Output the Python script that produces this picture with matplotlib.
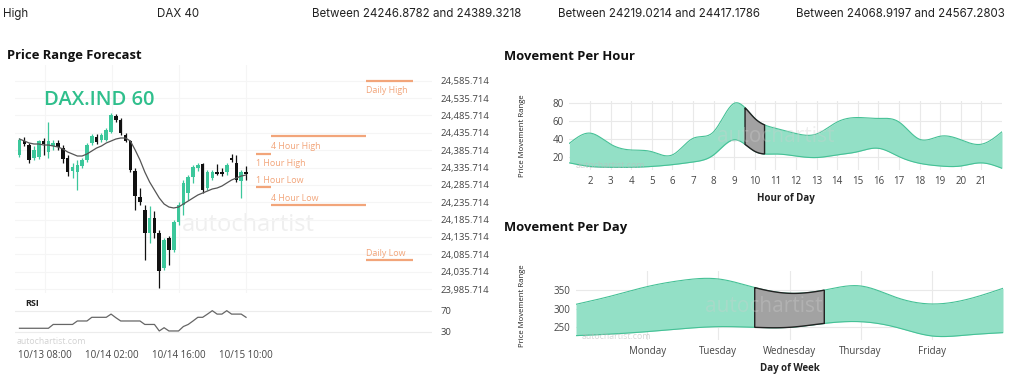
import numpy as np
import matplotlib
matplotlib.use("Agg")
import matplotlib.pyplot as plt

# ---------------- data ----------------
header_texts = ["High", "DAX 40",
                "Between 24246.8782 and 24389.3218",
                "Between 24219.0214 and 24417.1786",
                "Between 24068.9197 and 24567.2803"]

candle_open = [24371.7, 24410.6, 24400.5, 24363.1, 24365.9, 24412.0, 24380.3, 24397.6, 24406.3, 24391.9,
               24363.1, 24325.6, 24322.7, 24340.0, 24357.3, 24406.3, 24423.5, 24414.9, 24414.9, 24437.9,
               24484.0, 24472.5, 24429.3, 24412.0, 24325.6, 24250.8, 24213.3, 24147.1, 24190.5, 24147.1,
               24046.3, 24132.7, 24098.1, 24178.7, 24227.7, 24262.3, 24308.3, 24334.3, 24345.8, 24276.7,
               24305.5, 24322.7, 24322.7, 24322.7, 24363.1, 24348.7, 24296.8, 24322.7]
candle_high = [24420.7, 24423.5, 24406.3, 24397.6, 24414.9, 24420.7, 24466.7, 24414.9, 24414.9, 24400.5,
               24371.7, 24348.7, 24357.3, 24363.1, 24406.3, 24432.2, 24432.2, 24435.1, 24449.5, 24492.7,
               24489.8, 24478.3, 24435.1, 24414.9, 24334.3, 24276.7, 24227.7, 24224.8, 24210.4, 24155.7,
               24132.7, 24138.5, 24184.5, 24236.3, 24299.7, 24314.1, 24342.9, 24348.7, 24348.7, 24328.5,
               24328.5, 24345.8, 24334.3, 24348.7, 24374.6, 24371.7, 24328.5, 24340.0]
candle_low = [24365.9, 24396.2, 24348.7, 24357.3, 24360.2, 24371.7, 24363.1, 24386.1, 24386.1, 24348.7,
              24311.2, 24305.5, 24270.9, 24334.3, 24351.5, 24400.5, 24403.4, 24409.1, 24412.0, 24435.1,
              24466.7, 24429.3, 24409.1, 24322.7, 24213.3, 24227.7, 24069.3, 24118.3, 24132.7, 23988.7,
              24040.5, 24054.9, 24092.3, 24170.1, 24198.9, 24242.1, 24291.1, 24325.6, 24262.3, 24270.9,
              24299.7, 24314.1, 24311.2, 24314.1, 24351.5, 24293.9, 24247.9, 24299.7]
candle_close = [24414.9, 24403.4, 24357.3, 24386.1, 24412.0, 24404.8, 24412.0, 24406.3, 24394.7, 24360.2,
                24322.7, 24337.1, 24342.9, 24357.3, 24400.5, 24425.0, 24409.1, 24429.3, 24443.7, 24486.9,
                24472.5, 24435.1, 24412.0, 24328.5, 24253.7, 24236.3, 24147.1, 24190.5, 24147.1, 24037.6,
                24126.9, 24098.1, 24178.7, 24227.7, 24291.1, 24308.3, 24337.1, 24342.9, 24270.9, 24322.7,
                24322.7, 24318.4, 24317.0, 24342.9, 24357.3, 24299.7, 24322.7, 24317.0]
moving_avg = [24417.8, 24412.0, 24406.3, 24403.4, 24403.4, 24400.5, 24400.5, 24397.6, 24394.7, 24389.0,
              24380.3, 24374.6, 24368.8, 24368.8, 24374.6, 24383.2, 24391.9, 24397.6, 24406.3, 24412.0,
              24417.8, 24420.7, 24420.7, 24412.0, 24386.1, 24357.3, 24322.7, 24293.9, 24270.9, 24247.9,
              24230.6, 24221.9, 24219.1, 24221.9, 24230.6, 24239.2, 24247.9, 24256.5, 24262.3, 24268.0,
              24273.8, 24276.7, 24282.4, 24291.1, 24299.7, 24305.5, 24311.2, 24314.1]
rsi_values = [36.6, 36.6, 36.6, 36.6, 36.6, 36.6, 36.6, 44, 44, 44,
              44, 44, 50.7, 50.7, 50.7, 57.8, 57.8, 57.8, 57.8, 64,
              57, 50.7, 50.7, 50.7, 50.7, 50.7, 44, 44, 44, 31.4,
              37.7, 31.4, 31.4, 31.4, 40, 44, 50.7, 57.8, 57.8, 64,
              70.6, 64, 64, 70.6, 64, 64, 64, 57.8]
date_ticks = [5.2, 19.2, 33.0, 46.9]
date_labels = ["10/13 08:00", "10/14 02:00", "10/14 16:00", "10/15 10:00"]
price_ticks = [23985.714 + 50 * k for k in range(13)]

level_names = ["Daily High", "4 Hour High", "1 Hour High", "1 Hour Low", "4 Hour Low", "Daily Low"]
level_values = [24585.7, 24426.4, 24375.4, 24279.5, 24228.6, 24069.3]

hours = list(range(1, 23))
hour_upper = [35, 46.5, 34, 27.5, 25.6, 22, 40.6, 48, 80, 63, 52, 46, 45.5, 59, 64, 63, 59, 39.5, 43, 39, 34, 48]
hour_lower = [13, 9, 8, 8, 9, 11, 14, 22, 39, 26, 23, 20.7, 19, 22, 25.6, 29.4, 20, 12.5, 9.5, 9.5, 13, 6.9]
hour_tick_labels = [str(h) for h in range(2, 22)]
current_hour = 10

day_pos = [0, 0.5, 1, 1.5, 2, 2.5, 3, 3.5, 4, 4.5, 5, 5.5, 6]
day_upper = [311.6, 334, 359, 376, 379.5, 357, 341, 350, 360.7, 330, 312.5, 325, 354.5]
day_lower = [227.7, 232, 238.4, 246.4, 251.8, 250, 250, 260.7, 265, 250, 226.8, 229.5, 235.7]
day_names = ["Monday", "Tuesday", "Wednesday", "Thursday", "Friday"]
current_day = 3

# ---------------- helpers ----------------
W, H = 1024, 381


def rect(l, t, r, b):
    return [l / W, 1 - b / H, (r - l) / W, (b - t) / H]


def fx(x):
    return x / W


def fy(y):
    return 1 - y / H


def spline(x, y, n=400):
    x = np.asarray(x, float)
    y = np.asarray(y, float)
    m = len(x)
    h = np.diff(x)
    A = np.zeros((m, m))
    rhs = np.zeros(m)
    A[0, 0] = 1
    A[-1, -1] = 1
    for i in range(1, m - 1):
        A[i, i - 1] = h[i - 1]
        A[i, i] = 2 * (h[i - 1] + h[i])
        A[i, i + 1] = h[i]
        rhs[i] = 6 * ((y[i + 1] - y[i]) / h[i] - (y[i] - y[i - 1]) / h[i - 1])
    M = np.linalg.solve(A, rhs)
    xs = np.linspace(x[0], x[-1], n)
    k = np.clip(np.searchsorted(x, xs) - 1, 0, m - 2)
    t0 = x[k]
    t1 = x[k + 1]
    hk = t1 - t0
    ys = (M[k] * (t1 - xs) ** 3 / (6 * hk) + M[k + 1] * (xs - t0) ** 3 / (6 * hk)
          + (y[k] / hk - M[k] * hk / 6) * (t1 - xs) + (y[k + 1] / hk - M[k + 1] * hk / 6) * (xs - t0))
    return xs, ys


GREEN = "#3cc79b"
BLACK = "#111111"
ORANGE = "#f2a57a"
FILL = "#93e0c6"
EDGE = "#45c196"
TXT = "#444444"

fig = plt.figure(figsize=(10.24, 3.81), dpi=100)
fig.patch.set_facecolor("white")

# header
for x, s in zip([3, 157, 312, 558, 796], header_texts):
    fig.text(fx(x), fy(14), s, fontsize=8.3, family="Inter", color="#222222", va="center", ha="left")

# titles
fig.text(fx(7), fy(56), "Price Range Forecast", fontsize=9.4, family="Open Sans", weight="bold", va="center", color="#111")
fig.text(fx(504), fy(56), "Movement Per Hour", fontsize=9.4, family="Open Sans", weight="bold", va="center", color="#111")
fig.text(fx(504), fy(227), "Movement Per Day", fontsize=9.4, family="Open Sans", weight="bold", va="center", color="#111")

# ---------------- candle chart ----------------
XL = (-0.93, 85.58)
ax = fig.add_axes(rect(15, 65, 432, 293))
idx = np.arange(len(candle_open))
for i in idx:
    o, h_, l_, c = candle_open[i], candle_high[i], candle_low[i], candle_close[i]
    col = GREEN if c >= o else BLACK
    ax.vlines(i, l_, h_, color=col, lw=0.9, zorder=3)
    ax.bar(i, max(abs(c - o), 5), bottom=min(o, c), width=0.74, color=col, zorder=4, linewidth=0)
ax.plot(idx, moving_avg, color="#555555", lw=0.9, zorder=5)

line_spans = [(71.9, 81.6), (52.1, 71.9), (49.0, 52.1), (49.0, 52.1), (52.1, 71.9), (71.9, 81.6)]
label_off = [-10, -10, -9.6, 6.5, 6.5, 6.5]
for name, val, (a, b), off in zip(level_names, level_values, line_spans, label_off):
    ax.hlines(val, a, b, color=ORANGE, lw=1.6, zorder=3)
    ax.annotate(name, xy=(a, val), xytext=(0, off * 0.72), textcoords="offset points",
                fontsize=6.4, color=ORANGE, family="Open Sans", va="center", ha="left")

ax.text(0.07, 0.845, "DAX.IND 60", transform=ax.transAxes, fontsize=14.5, family="Open Sans",
        weight="semibold", color="#2fbf8c", va="center", ha="left")
ax.text(0.4, 0.3, "autochartist", transform=ax.transAxes, fontsize=17, family="Open Sans",
        color="#efefef", va="center", ha="left", zorder=1)

ax.set_xlim(*XL)
ax.set_ylim(23974.3, 24630.9)
ax.set_xticks(date_ticks)
ax.set_xticklabels([])
ax.yaxis.tick_right()
ax.set_yticks(price_ticks)
ax.set_yticklabels([f"{v:,.3f}" for v in price_ticks], fontsize=6.8, family="Open Sans", color=TXT)
ax.tick_params(length=0, pad=6)
ax.grid(color="#f5f5f5", lw=0.8, zorder=0)
for s in ax.spines.values():
    s.set_visible(False)

# RSI
ar = fig.add_axes(rect(15, 302, 432, 338))
ar.plot(idx, rsi_values, color="#666666", lw=0.9)
ar.axhline(70, color="#ececec", lw=0.8, zorder=0)
ar.axhline(30, color="#ececec", lw=0.8, zorder=0)
ar.set_xlim(*XL)
ar.set_ylim(17.8, 87.4)
ar.yaxis.tick_right()
ar.set_yticks([70, 30])
ar.set_yticklabels(["70", "30"], fontsize=6.8, family="Open Sans", color=TXT)
ar.set_xticks(date_ticks)
ar.set_xticklabels(date_labels, fontsize=7, family="Open Sans", color=TXT)
ar.tick_params(axis="y", length=0, pad=6)
ar.tick_params(axis="x", length=0, pad=9)
for s in ar.spines.values():
    s.set_visible(False)
fig.text(fx(25), fy(303), "RSI", fontsize=6.5, weight="bold", family="Open Sans", va="center", color="#222")
fig.text(fx(17), fy(342), "autochartist.com", fontsize=6.3, family="Open Sans", va="center", color="#d2d2d2")


# ---------------- band charts ----------------
def band_chart(box, xv, up, lo, cur, xlim, ylim, xt, xtl, yt, xlabel, wm_x, wm_y, com_y):
    a = fig.add_axes(rect(*box))
    xs, us = spline(xv, up)
    _, ls = spline(xv, lo)
    a.fill_between(xs, ls, us, color=FILL, lw=0, zorder=2)
    a.plot(xs, us, color=EDGE, lw=0.8, zorder=3)
    a.plot(xs, ls, color=EDGE, lw=0.8, zorder=3)
    m = (xs >= cur - 0.5) & (xs <= cur + 0.5)
    px = np.concatenate([xs[m], xs[m][::-1]])
    py = np.concatenate([us[m], ls[m][::-1]])
    a.fill(px, py, facecolor="#a2a2a2", edgecolor="#222222", lw=1.0, zorder=4)
    a.set_xlim(*xlim)
    a.set_ylim(*ylim)
    a.set_xticks(xt)
    a.set_xticklabels(xtl, fontsize=7, family="Open Sans", color=TXT)
    a.set_yticks(yt)
    a.set_yticklabels([str(v) for v in yt], fontsize=7, family="Open Sans", color=TXT)
    a.tick_params(length=0, pad=4)
    a.grid(color="#e9e9e9", lw=0.8, zorder=0)
    a.set_axisbelow(True)
    for s in a.spines.values():
        s.set_visible(False)
    a.set_xlabel(xlabel, fontsize=7, weight="bold", family="Open Sans", color="#222", labelpad=5)
    fig.text(fx(wm_x), fy(wm_y), "autochartist", fontsize=15, family="Open Sans", color="#cfcfcf",
             alpha=0.35, va="center", ha="left", zorder=10)
    fig.text(fx(box[0] + 6), fy(com_y), "autochartist.com", fontsize=6.3, family="Open Sans",
             color="#bdbdbd", alpha=0.6, va="center", ha="left", zorder=10)
    return a


band_chart((569.4, 101, 1002, 170), hours, hour_upper, hour_lower, current_hour, (1, 22), (5, 82.6),
           list(range(2, 22)), hour_tick_labels, [20, 40, 60, 80], "Hour of Day", 717, 137, 165)
fig.text(fx(523), fy(136), "Price Movement Range", rotation=90, fontsize=5.6, family="Open Sans",
         va="center", ha="center", color="#222")

band_chart((576, 271.3, 1003, 340), day_pos, day_upper, day_lower, current_day, (0, 6), (216, 400),
           [1, 2, 3, 4, 5], day_names, [250, 300, 350], "Day of Week", 705, 307, 336.7)
fig.text(fx(523), fy(306), "Price Movement Range", rotation=90, fontsize=5.6, family="Open Sans",
         va="center", ha="center", color="#222")

fig.savefig("out.png", dpi=100, facecolor="white")
